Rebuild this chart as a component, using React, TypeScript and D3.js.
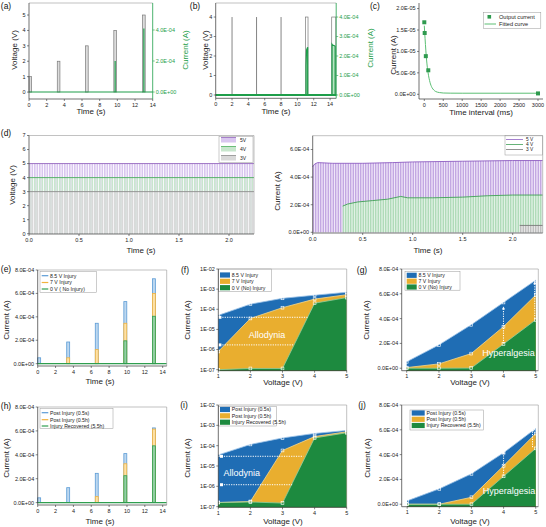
import React from "react";
import * as d3 from "d3";

const FONT = "'Liberation Sans', Arial, Helvetica, sans-serif";

// ---------------- (a) ----------------
const aPulseStart = [0, 3.2, 6.4, 9.6, 12.85];
const aPulseVolt = [1, 2, 3, 4, 5];
const aPulseCurrent = [0, 0, 0, 2.0e-4, 4.1e-4];
const aPulseWidth = 0.3;
const aTimeTicks = [0, 2, 4, 6, 8, 10, 12, 14];
const aVoltTicks = [0, 1, 2, 3, 4, 5];
const aCurrTicks = [0, 2e-4, 4e-4];

// ---------------- (b) ----------------
const bSpikeTimes = [2, 5, 8];
const bPulseStart = [11.0, 14.2];
const bPulseEnd = [11.3, 14.7];
const bPulseVolt = 4;
const bCurrT = [0, 11.06, 11.06, 11.12, 11.2, 11.26, 11.26, 14.24, 14.24, 14.32, 14.45, 14.62, 14.62, 14.75];
const bCurrI = [0, 0, 1.5e-4, 2.3e-4, 2.4e-4, 2.45e-4, 0, 0, 2.6e-4, 2.55e-4, 2.55e-4, 2.5e-4, 0, 0];
const bTimeTicks = [0, 2, 4, 6, 8, 10, 12, 14];
const bVoltTicks = [0, 1, 2, 3, 4];
const bCurrTicks = [0, 1e-4, 2e-4, 3e-4, 4e-4];

// ---------------- (c) ----------------
const cTime = [0, 10, 40, 105, 3000];
const cCurrent = [1.68e-5, 1.43e-5, 8.9e-6, 5.6e-6, 2.0e-7];
const cFitTime = [0, 20, 40, 60, 80, 100, 150, 200, 250, 300, 400, 500, 700, 1000, 2000, 3000];
const cFitCurrent = [1.6e-5, 1.3e-5, 1.03e-5, 8.0e-6, 6.3e-6, 5.0e-6, 2.8e-6, 1.6e-6, 1.0e-6, 6.5e-7, 4.0e-7, 3.0e-7, 2.6e-7, 2.5e-7, 2.5e-7, 2.5e-7];
const cTimeTicks = [0, 500, 1000, 1500, 2000, 2500, 3000];
const cCurrTicks = [0, 5e-6, 1e-5, 1.5e-5, 2e-5];

// ---------------- (d) ----------------
const dPulsePeriod = 0.025;
const dPulseOn = 0.016;
const dLevels = [5, 4, 3];
const dLevelNames = ["5V", "4V", "3V"];
const dCurrNames = ["5 V", "4 V", "3 V"];
const dTimeTicks = [0, 0.5, 1.0, 1.5, 2.0];
const dVoltTicks = [0, 1, 2, 3, 4, 5, 6, 7];
const dCurrTicks = [0, 2e-4, 4e-4, 6e-4];
const d5EnvT = [0, 0.02, 0.05, 0.2, 0.5, 0.8, 1.0, 1.5, 2.0, 2.3];
const d5EnvI = [4.75e-4, 4.95e-4, 5.05e-4, 5.0e-4, 5.0e-4, 5.05e-4, 5.1e-4, 5.15e-4, 5.2e-4, 5.2e-4];
const d4EnvT = [0.3, 0.35, 0.45, 0.6, 0.75, 0.88, 0.95, 1.2, 1.5, 1.75, 2.0, 2.3];
const d4EnvI = [1.9e-4, 2.05e-4, 2.2e-4, 2.3e-4, 2.4e-4, 2.6e-4, 2.5e-4, 2.5e-4, 2.55e-4, 2.65e-4, 2.7e-4, 2.7e-4];
const d3EnvT = [2.07, 2.3];
const d3EnvI = [0.5e-4, 0.5e-4];

// ---------------- (e) / (h) ----------------
const ePulseStart = [0, 3.25, 6.45, 9.65, 12.85];
const ePulseWidth = 0.33;
const eInj85 = [0.5e-4, 1.85e-4, 3.45e-4, 5.3e-4, 7.25e-4];
const eInj7 = [0, 0.5e-4, 1.2e-4, 3.45e-4, 6.0e-4];
const eNoInj = [0, 0, 0, 1.95e-4, 4.05e-4];
const eNames = ["8.5 V Injury", "7 V Injury", "0 V ( No Injury)"];
const hPost05s = [0.4e-4, 1.25e-4, 2.45e-4, 4.1e-4, 6.25e-4];
const hPost05h = [0, 0, 0.5e-4, 3.25e-4, 6.15e-4];
const hRecov = [0, 0, 0, 2.25e-4, 4.75e-4];
const hNames = ["Post Injury (0.5s)", "Post Injury (0.5h)", "Injury Recovered (5.5h)"];
const linCurrTicks = [0, 2e-4, 4e-4, 6e-4, 8e-4];

// ---------------- (f) (g) (i) (j) ----------------
const vSteps = [1, 2, 3, 4, 5];
const logTicks = [1e-7, 1e-6, 1e-5, 1e-4, 1e-3, 1e-2];
const fNames = ["8.5 V Injury", "7 V Injury", "0 V (No) Injury"];
const f85 = [5.0e-5, 1.8e-4, 3.5e-4, 5.0e-4, 7.0e-4];
const f7 = [8e-7, 3.5e-5, 1.2e-4, 3.2e-4, 5.3e-4];
const f0 = [1.0e-7, 1.15e-7, 1.15e-7, 2.0e-4, 3.8e-4];
const fDotY = [4e-5, 1.7e-6];
const fDotX0 = [1.05, 1.05];
const fDotX1 = [3.8, 3.35];
const g85 = [0.52e-4, 1.88e-4, 3.5e-4, 5.3e-4, 7.1e-4];
const g7 = [0.05e-4, 0.35e-4, 1.18e-4, 3.35e-4, 5.9e-4];
const g0 = [0, 0, 0.01e-4, 1.95e-4, 3.9e-4];
const gDotX = [4, 4.97];
const gDotY0 = [2e-4, 4e-4];
const gDotY1 = [4.85e-4, 6.9e-4];
const iNames = ["Post Injury (0.5s)", "Post Injury (0.5h)", "Injury Recovered (5.5h)"];
const i05s = [3.5e-5, 1.15e-4, 2.4e-4, 4.0e-4, 5.6e-4];
const i05h = [1.6e-7, 1.8e-7, 5.8e-5, 2.8e-4, 4.8e-4];
const i55h = [1.6e-7, 1.7e-7, 1.5e-7, 2.4e-4, 4.3e-4];
const iDotY = [3e-5, 1.2e-6];
const iDotX0 = [1.1, 1.1];
const iDotX1 = [3.65, 3.3];
const jNames = ["Post Injury (0.5s)", "Post Injury (0.5h)", "Injury Recovered  (5.5h)"];
const j05s = [0.27e-4, 1.24e-4, 2.45e-4, 4.15e-4, 6.1e-4];
const j05h = [0, 0, 0.56e-4, 3.1e-4, 5.7e-4];
const j55h = [0, 0, 0, 2.25e-4, 4.5e-4];
const jDotX = [4, 4.9];
const jDotY0 = [2.3e-4, 4.6e-4];
const jDotY1 = [4.2e-4, 6.0e-4];

// ---------------- helpers ----------------
const fmtE = (v: number) => {
  if (v === 0) return "0.0E+00";
  const [m, e] = v.toExponential(1).split("e");
  const n = +e;
  return `${m}E${n < 0 ? "-" : "+"}${String(Math.abs(n)).padStart(2, "0")}`;
};
const fmtLog = (v: number) => {
  const n = Math.round(Math.log10(v));
  return `1E${n < 0 ? "-" : "+"}${String(Math.abs(n)).padStart(2, "0")}`;
};
const fmtInt = (v: number) => String(v);
const fmt1 = (v: number) => v.toFixed(1);

type Box = { x0: number; x1: number; y0: number; y1: number };
const TF = 5.5; // tick font
const TT = 8; // title font

function XAxis({ s, ticks, b, fmt }: any) {
  return (
    <g>
      <line x1={b.x0} x2={b.x1} y1={b.y1} y2={b.y1} stroke="#333" strokeWidth={0.7} />
      {ticks.map((t: number, i: number) => (
        <g key={i}>
          <line x1={s(t)} x2={s(t)} y1={b.y1} y2={b.y1 + 2} stroke="#333" strokeWidth={0.6} />
          <text x={s(t)} y={b.y1 + 7.5} fontSize={TF} textAnchor="middle" fontFamily={FONT} fill="#222">{fmt(t)}</text>
        </g>
      ))}
    </g>
  );
}
function YAxisL({ s, ticks, b, fmt, color = "#333" }: any) {
  return (
    <g>
      <line x1={b.x0} x2={b.x0} y1={b.y0} y2={b.y1} stroke={color} strokeWidth={0.7} />
      {ticks.map((t: number, i: number) => (
        <g key={i}>
          <line x1={b.x0 - 2} x2={b.x0} y1={s(t)} y2={s(t)} stroke={color} strokeWidth={0.6} />
          <text x={b.x0 - 3.5} y={s(t)} dy="0.35em" fontSize={TF} textAnchor="end" fontFamily={FONT} fill={color === "#333" ? "#222" : color}>{fmt(t)}</text>
        </g>
      ))}
    </g>
  );
}
function YAxisR({ s, ticks, b, fmt, color }: any) {
  return (
    <g>
      <line x1={b.x1} x2={b.x1} y1={b.y0} y2={b.y1} stroke={color} strokeWidth={0.8} />
      {ticks.map((t: number, i: number) => (
        <g key={i}>
          <line x1={b.x1} x2={b.x1 + 2} y1={s(t)} y2={s(t)} stroke={color} strokeWidth={0.6} />
          <text x={b.x1 + 3} y={s(t)} dy="0.35em" fontSize={TF} textAnchor="start" fontFamily={FONT} fill={color}>{fmt(t)}</text>
        </g>
      ))}
    </g>
  );
}
function FrameTR({ b, right = true }: any) {
  return (
    <g>
      <line x1={b.x0} x2={b.x1} y1={b.y0} y2={b.y0} stroke="#999" strokeWidth={0.6} />
      {right && <line x1={b.x1} x2={b.x1} y1={b.y0} y2={b.y1} stroke="#999" strokeWidth={0.6} />}
    </g>
  );
}
function YTitle({ x, y, text, color = "#222" }: any) {
  return (
    <text x={x} y={y} transform={`rotate(-90 ${x} ${y})`} fontSize={TT} textAnchor="middle" dominantBaseline="central" fontFamily={FONT} fill={color}>{text}</text>
  );
}
function XTitle({ x, y, text }: any) {
  return (
    <text x={x} y={y} fontSize={TT} textAnchor="middle" dominantBaseline="central" fontFamily={FONT} fill="#222">{text}</text>
  );
}
function PLabel({ x, y, text }: any) {
  return (
    <text x={x} y={y} fontSize={8.5} textAnchor="middle" dominantBaseline="central" fontFamily={FONT} fill="#111">{text}</text>
  );
}

const BLUE = "#1f6db4";
const GOLD = "#e9ae2f";
const GREEN = "#1d8a3f";
const areaColors = [BLUE, GOLD, GREEN];
const areaLineColors = ["#9cc3e8", "#f6d88c", "#8fcea0"];

const barStroke = ["#5b9bd5", "#f2b23c", "#2f9e4f"];
const barFill = ["#bcd7f0", "#fde1a6", "#93cfa3"];

// ---------------- panels ----------------
function PanelA() {
  const b: Box = { x0: 29, x1: 152.7, y0: 3, y1: 99 };
  const x = d3.scaleLinear().domain([0, 14]).range([b.x0, b.x1]);
  const yV = d3.scaleLinear().domain([-0.45, 5.78]).range([b.y1, b.y0]);
  const yI = d3.scaleLinear().domain([-0.45e-4, 5.74e-4]).range([b.y1, b.y0]);
  const gc = "#1e9e4a";
  return (
    <g>
      {aPulseStart.map((s, i) => (
        <rect key={i} x={x(s)} width={x(s + aPulseWidth) - x(s)} y={yV(aPulseVolt[i])} height={yV(0) - yV(aPulseVolt[i])} fill="#dcdcdc" stroke="#7a7a7a" strokeWidth={0.7} />
      ))}
      <line x1={x(0)} x2={x(14)} y1={yI(0)} y2={yI(0)} stroke={gc} strokeWidth={1.1} />
      {aPulseStart.map((s, i) =>
        aPulseCurrent[i] > 0 ? (
          <line key={i} x1={x(s + aPulseWidth / 2)} x2={x(s + aPulseWidth / 2)} y1={yI(0)} y2={yI(aPulseCurrent[i])} stroke={gc} strokeWidth={1.2} />
        ) : null
      )}
      <FrameTR b={b} right={false} />
      <XAxis s={x} ticks={aTimeTicks} b={b} fmt={fmtInt} />
      <YAxisL s={yV} ticks={aVoltTicks} b={b} fmt={fmtInt} />
      <YAxisR s={yI} ticks={aCurrTicks} b={b} fmt={fmtE} color={gc} />
      <YTitle x={14} y={50} text="Voltage (V)" />
      <YTitle x={185} y={50} text="Current (A)" color={gc} />
      <XTitle x={91} y={111} text="Time (s)" />
      <PLabel x={6} y={6} text="(a)" />
    </g>
  );
}

function PanelB() {
  const b: Box = { x0: 215.7, x1: 336.2, y0: 3, y1: 98.3 };
  const x = d3.scaleLinear().domain([0, 14.75]).range([b.x0, b.x1]);
  const yV = d3.scaleLinear().domain([-0.17, 4.72]).range([b.y1, b.y0]);
  const yI = d3.scaleLinear().domain([-0.17e-4, 4.72e-4]).range([b.y1, b.y0]);
  const gc = "#1e9e4a";
  const pts = bCurrT.map((t, i) => [t, bCurrI[i]] as [number, number]);
  const area = d3.area<[number, number]>().x((d) => x(d[0])).y0(yI(0)).y1((d) => yI(d[1]))(pts) || "";
  const line = d3.line<[number, number]>().x((d) => x(d[0])).y((d) => yI(d[1]))(pts) || "";
  return (
    <g>
      {bSpikeTimes.map((t, i) => (
        <line key={i} x1={x(t)} x2={x(t)} y1={yV(0)} y2={yV(bPulseVolt)} stroke="#777" strokeWidth={0.9} />
      ))}
      <path d={area} fill="#b9e3c3" />
      {bPulseStart.map((s, i) => (
        <rect key={i} x={x(s)} width={x(bPulseEnd[i]) - x(s)} y={yV(bPulseVolt)} height={yV(0) - yV(bPulseVolt)} fill="none" stroke="#7a7a7a" strokeWidth={0.7} />
      ))}
      <path d={line} fill="none" stroke={gc} strokeWidth={1.2} />
      <line x1={x(0)} x2={x(14.75)} y1={yI(0)} y2={yI(0)} stroke={gc} strokeWidth={1.8} />
      <FrameTR b={b} right={false} />
      <XAxis s={x} ticks={bTimeTicks} b={b} fmt={fmtInt} />
      <YAxisL s={yV} ticks={bVoltTicks} b={b} fmt={fmtInt} />
      <YAxisR s={yI} ticks={bCurrTicks} b={b} fmt={fmtE} color={gc} />
      <YTitle x={205} y={50} text="Voltage (V)" />
      <YTitle x={370} y={48} text="Current (A)" color={gc} />
      <XTitle x={276} y={111} text="Time (s)" />
      <PLabel x={195} y={6} text="(b)" />
    </g>
  );
}

function PanelC() {
  const b: Box = { x0: 419, x1: 543, y0: 3, y1: 99 };
  const x = d3.scaleLinear().domain([-140, 3132]).range([b.x0, b.x1]);
  const y = d3.scaleLinear().domain([-1.1e-6, 2.13e-5]).range([b.y1, b.y0]);
  const fit = d3.line<number>().x((_, i) => x(cFitTime[i])).y((d) => y(d)).curve(d3.curveMonotoneX)(cFitCurrent) || "";
  const gc = "#2e9a4e";
  return (
    <g>
      <path d={fit} fill="none" stroke="#5cbf74" strokeWidth={1} />
      {cTime.map((t, i) => (
        <rect key={i} x={x(t) - 2} y={y(cCurrent[i]) - 2} width={4} height={4} fill={gc} />
      ))}
      <rect x={483.3} y={12.3} width={57.5} height={16} fill="white" stroke="#999" strokeWidth={0.5} />
      <rect x={487.5} y={15} width={3.6} height={3.6} fill={gc} />
      <text x={499} y={17} dy="0.35em" fontSize={5.6} fontFamily={FONT} fill="#222">Output current</text>
      <line x1={484.5} x2={496} y1={24} y2={24} stroke="#5cbf74" strokeWidth={1} />
      <text x={499} y={24} dy="0.35em" fontSize={5.6} fontFamily={FONT} fill="#222">Fitted curve</text>
      <XAxis s={x} ticks={cTimeTicks} b={b} fmt={fmtInt} />
      <YAxisL s={y} ticks={cCurrTicks} b={b} fmt={fmtE} />
      <YTitle x={393} y={55} text="Current (A)" />
      <XTitle x={481} y={112} text="Time interval (ms)" />
      <PLabel x={375} y={6} text="(c)" />
    </g>
  );
}

const dFill = ["#d9c6ef", "#c8e6cd", "#d9d9d9"];
const dLine = ["#9467bd", "#4cae5c", "#8c8c8c"];

function PanelDL() {
  const b: Box = { x0: 29, x1: 254, y0: 135.5, y1: 234 };
  const x = d3.scaleLinear().domain([0, 2.25]).range([b.x0, b.x1]);
  const y = d3.scaleLinear().domain([-0.02, 7]).range([b.y1, b.y0]);
  const starts = d3.range(0, 2.25, dPulsePeriod);
  return (
    <g>
      {dLevels.map((lv, k) => (
        <g key={k}>
          {starts.map((s, i) => (
            <rect key={i} x={x(s)} width={x(s + dPulseOn) - x(s)} y={y(lv)} height={y(0) - y(lv)} fill={dFill[k]} />
          ))}
          <line x1={x(0)} x2={x(2.25)} y1={y(lv)} y2={y(lv)} stroke={dLine[k]} strokeWidth={0.9} />
        </g>
      ))}
      <rect x={219} y={136.7} width={34} height={26} fill="white" stroke="#999" strokeWidth={0.5} />
      {dLevelNames.map((n, k) => {
        const ry = 140 + k * 9;
        return (
          <g key={k}>
            <rect x={221} y={ry - 2.5} width={15} height={5} fill={dFill[k]} />
            <line x1={221} x2={236} y1={ry - 2.5} y2={ry - 2.5} stroke={dLine[k]} strokeWidth={0.8} />
            <text x={240} y={ry} dy="0.35em" fontSize={5} fontFamily={FONT} fill="#222">{n}</text>
          </g>
        );
      })}
      <FrameTR b={b} />
      <XAxis s={x} ticks={dTimeTicks} b={b} fmt={fmt1} />
      <YAxisL s={y} ticks={dVoltTicks} b={b} fmt={fmtInt} />
      <YTitle x={12} y={185} text="Voltage (V)" />
      <XTitle x={141} y={250} text="Time (s)" />
      <PLabel x={6} y={133} text="(d)" />
    </g>
  );
}

function PanelDR() {
  const b: Box = { x0: 312.7, x1: 542.7, y0: 135.7, y1: 233 };
  const x = d3.scaleLinear().domain([0, 2.3]).range([b.x0, b.x1]);
  const y = d3.scaleLinear().domain([-0.05e-4, 7e-4]).range([b.y1, b.y0]);
  const starts = d3.range(0, 2.3, dPulsePeriod);
  const envs = [
    [d5EnvT, d5EnvI],
    [d4EnvT, d4EnvI],
    [d3EnvT, d3EnvI],
  ];
  const bg = ["#efe6f8", "#e2f2e5", "#e8e8e8"];
  const st = ["#b899dc", "#a3d5ae", "#b5b5b5"];
  const ln = ["#8e5fc2", "#3f9f55", "#777"];
  return (
    <g>
      <defs>
        {envs.map(([T, I], k) => (
          <clipPath id={`dclip${k}`} key={k}>
            <path d={d3.area<number>().x((d) => x(d)).y0(y(0)).y1((_, i) => y(I[i]))(T) || ""} />
          </clipPath>
        ))}
      </defs>
      {envs.map(([T, I], k) => (
        <g key={k}>
          <g clipPath={`url(#dclip${k})`}>
            <rect x={b.x0} y={b.y0} width={b.x1 - b.x0} height={b.y1 - b.y0} fill={bg[k]} />
            {starts.map((s, i) => (
              <rect key={i} x={x(s)} width={1.1} y={b.y0} height={b.y1 - b.y0} fill={st[k]} />
            ))}
          </g>
          <path d={d3.line<number>().x((d) => x(d)).y((_, i) => y(I[i]))(T) || ""} fill="none" stroke={ln[k]} strokeWidth={0.9} />
        </g>
      ))}
      <rect x={505} y={135.7} width={37.7} height={19.3} fill="white" stroke="#999" strokeWidth={0.5} />
      {dCurrNames.map((n, k) => {
        const ry = 139.5 + k * 5;
        return (
          <g key={k}>
            <line x1={506} x2={523} y1={ry} y2={ry} stroke={ln[k]} strokeWidth={0.8} />
            <text x={526} y={ry} dy="0.35em" fontSize={4.8} fontFamily={FONT} fill="#222">{n}</text>
          </g>
        );
      })}
      <FrameTR b={b} />
      <XAxis s={x} ticks={dTimeTicks} b={b} fmt={fmt1} />
      <YAxisL s={y} ticks={dCurrTicks} b={b} fmt={fmtE} />
      <YTitle x={277} y={191} text="Current (A)" />
      <XTitle x={428} y={250} text="Time (s)" />
    </g>
  );
}

function BarPanel({ b, series, names, legend, label, labelPos, yTitle, xTitle }: any) {
  const x = d3.scaleLinear().domain([0, 14.45]).range([b.x0, b.x1]);
  const y = d3.scaleLinear().domain([-0.2e-4, 8e-4]).range([b.y1, b.y0]);
  return (
    <g>
      {series.map((vals: number[], k: number) => (
        <g key={k}>
          {ePulseStart.map((s, i) =>
            vals[i] > 0 ? (
              <rect key={i} x={x(s)} width={x(s + ePulseWidth) - x(s)} y={y(vals[i])} height={y(0) - y(vals[i])} fill={barFill[k]} stroke={barStroke[k]} strokeWidth={0.8} />
            ) : null
          )}
        </g>
      ))}
      <line x1={x(0)} x2={x(14.45)} y1={y(0)} y2={y(0)} stroke="#2f9e4f" strokeWidth={1.2} />
      <rect x={legend.x} y={legend.y} width={legend.w} height={legend.h} fill="white" stroke="#999" strokeWidth={0.5} />
      {names.map((n: string, k: number) => (
        <g key={k}>
          <line x1={legend.x + 1.7} x2={legend.x + 8.3} y1={legend.rows[k]} y2={legend.rows[k]} stroke={barStroke[k]} strokeWidth={1.2} />
          <text x={legend.x + 10} y={legend.rows[k]} dy="0.35em" fontSize={5.2} fontFamily={FONT} fill="#222">{n}</text>
        </g>
      ))}
      <FrameTR b={b} />
      <XAxis s={x} ticks={aTimeTicks} b={b} fmt={fmtInt} />
      <YAxisL s={y} ticks={linCurrTicks} b={b} fmt={fmtE} />
      <YTitle x={yTitle[0]} y={yTitle[1]} text="Current (A)" />
      <XTitle x={xTitle[0]} y={xTitle[1]} text="Time (s)" />
      <PLabel x={labelPos[0]} y={labelPos[1]} text={label} />
    </g>
  );
}

function AreaPanel({ b, log, xDom, yDom, series, names, legend, label, labelPos, yTitle, xTitle, dots, word }: any) {
  const x = d3.scaleLinear().domain(xDom).range([b.x0, b.x1]);
  const y: any = log ? d3.scaleLog().domain(yDom).range([b.y1, b.y0]) : d3.scaleLinear().domain(yDom).range([b.y1, b.y0]);
  const area = (vals: number[]) => d3.area<number>().x((d) => x(d)).y0(b.y1).y1((_, i) => y(Math.max(vals[i], yDom[0]))) (vSteps) || "";
  const line = (vals: number[]) => d3.line<number>().x((d) => x(d)).y((_, i) => y(Math.max(vals[i], yDom[0])))(vSteps) || "";
  return (
    <g>
      {series.map((vals: number[], k: number) => (
        <path key={k} d={area(vals)} fill={areaColors[k]} />
      ))}
      {series.map((vals: number[], k: number) => (
        <g key={k}>
          <path d={line(vals)} fill="none" stroke={areaLineColors[k]} strokeWidth={0.8} />
          {vSteps.map((v, i) => (
            <rect key={i} x={x(v) - 1.4} y={y(Math.max(vals[i], yDom[0])) - 1.4} width={2.8} height={2.8} fill="none" stroke="white" strokeWidth={0.6} />
          ))}
        </g>
      ))}
      {dots.h &&
        dots.h.y.map((yy: number, i: number) => (
          <g key={i}>
            <line x1={x(dots.h.x0[i])} x2={x(dots.h.x1[i])} y1={y(yy)} y2={y(yy)} stroke="white" strokeWidth={1} strokeDasharray="1.2,1.2" />
            <rect x={x(dots.h.x0[i]) - 1.5} y={y(yy) - 1.5} width={3} height={3} fill="white" />
          </g>
        ))}
      {dots.v &&
        dots.v.x.map((xx: number, i: number) => (
          <g key={i}>
            <line x1={x(xx)} x2={x(xx)} y1={y(dots.v.y0[i])} y2={y(dots.v.y1[i])} stroke="white" strokeWidth={1} strokeDasharray="1.2,1.2" />
            <path d={`M${x(xx)},${y(dots.v.y1[i]) - 1.5} l-1.6,3 l3.2,0 Z`} fill="white" />
          </g>
        ))}
      <text x={word.x} y={word.y} fontSize={9} textAnchor="middle" fontFamily={FONT} fill="white">{word.text}</text>
      <rect x={legend.x} y={legend.y} width={legend.w} height={legend.h} fill="white" stroke="#999" strokeWidth={0.5} />
      {names.map((n: string, k: number) => (
        <g key={k}>
          <rect x={legend.x + 1.7} y={legend.rows[k] - 2.6} width={legend.sw} height={5.2} fill={areaColors[k]} />
          <text x={legend.x + legend.sw + 3.5} y={legend.rows[k]} dy="0.35em" fontSize={5.2} fontFamily={FONT} fill="#222">{n}</text>
        </g>
      ))}
      <FrameTR b={b} />
      <XAxis s={x} ticks={vSteps} b={b} fmt={fmtInt} />
      <YAxisL s={y} ticks={log ? logTicks : linCurrTicks} b={b} fmt={log ? fmtLog : fmtE} />
      <YTitle x={yTitle[0]} y={yTitle[1]} text="Current (A)" />
      <XTitle x={xTitle[0]} y={xTitle[1]} text="Voltage (V)" />
      <PLabel x={labelPos[0]} y={labelPos[1]} text={label} />
    </g>
  );
}

export default function App() {
  return (
    <svg width={546} height={527} viewBox="0 0 546 527" style={{ position: "absolute", left: 0, top: 0, background: "white" }}>
      <rect x={0} y={0} width={546} height={527} fill="white" />
      <PanelA />
      <PanelB />
      <PanelC />
      <PanelDL />
      <PanelDR />
      <BarPanel
        b={{ x0: 37.7, x1: 166.7, y0: 270, y1: 366 }}
        series={[eInj85, eInj7, eNoInj]}
        names={eNames}
        legend={{ x: 40, y: 271.7, w: 56.7, h: 21, rows: [275.7, 282.5, 289] }}
        label="(e)"
        labelPos={[6, 269]}
        yTitle={[6, 320]}
        xTitle={[100, 381.5]}
      />
      <BarPanel
        b={{ x0: 37.7, x1: 166.7, y0: 407, y1: 505 }}
        series={[hPost05s, hPost05h, hRecov]}
        names={hNames}
        legend={{ x: 40, y: 408.5, w: 73, h: 20, rows: [412.7, 419.7, 426] }}
        label="(h)"
        labelPos={[6, 406]}
        yTitle={[6, 458]}
        xTitle={[100, 521.5]}
      />
      <AreaPanel
        b={{ x0: 218.3, x1: 346.7, y0: 269, y1: 370.7 }}
        log
        xDom={[1, 5]}
        yDom={[0.89e-7, 1e-2]}
        series={[f85, f7, f0]}
        names={fNames}
        legend={{ x: 218.3, y: 269, w: 53.4, h: 22.7, rows: [275, 281.3, 287.7], sw: 10 }}
        label="(f)"
        labelPos={[185, 270]}
        yTitle={[187.5, 320]}
        xTitle={[283, 382.5]}
        dots={{ h: { y: fDotY, x0: fDotX0, x1: fDotX1 } }}
        word={{ x: 267, y: 338, text: "Allodynia" }}
      />
      <AreaPanel
        b={{ x0: 401.7, x1: 538.3, y0: 269, y1: 370.7 }}
        xDom={[0.845, 5.08]}
        yDom={[-0.2e-4, 8e-4]}
        series={[g85, g7, g0]}
        names={fNames}
        legend={{ x: 405, y: 271.7, w: 55, h: 18.5, rows: [275.3, 281.2, 287], sw: 10 }}
        label="(g)"
        labelPos={[362, 270]}
        yTitle={[366.7, 320]}
        xTitle={[470, 382.5]}
        dots={{ v: { x: gDotX, y0: gDotY0, y1: gDotY1 } }}
        word={{ x: 508.5, y: 356, text: "Hyperalgesia" }}
      />
      <AreaPanel
        b={{ x0: 218.3, x1: 346.7, y0: 405, y1: 507.3 }}
        log
        xDom={[1, 5]}
        yDom={[0.93e-7, 1e-2]}
        series={[i05s, i05h, i55h]}
        names={iNames}
        legend={{ x: 218.3, y: 406.5, w: 58.4, h: 19.5, rows: [409.5, 415.8, 422.2], sw: 10 }}
        label="(i)"
        labelPos={[184, 405]}
        yTitle={[187.5, 458]}
        xTitle={[283, 521.5]}
        dots={{ h: { y: iDotY, x0: iDotX0, x1: iDotX1 } }}
        word={{ x: 241.7, y: 476, text: "Allodynia" }}
      />
      <AreaPanel
        b={{ x0: 401.7, x1: 538.3, y0: 405, y1: 506.7 }}
        xDom={[0.83, 5.08]}
        yDom={[-0.2e-4, 8e-4]}
        series={[j05s, j05h, j55h]}
        names={jNames}
        legend={{ x: 410, y: 410, w: 73.3, h: 20, rows: [413, 419.3, 425.5], sw: 13 }}
        label="(j)"
        labelPos={[362, 405]}
        yTitle={[367.7, 458]}
        xTitle={[470, 521.5]}
        dots={{ v: { x: jDotX, y0: jDotY0, y1: jDotY1 } }}
        word={{ x: 509, y: 494, text: "Hyperalgesia" }}
      />
    </svg>
  );
}
